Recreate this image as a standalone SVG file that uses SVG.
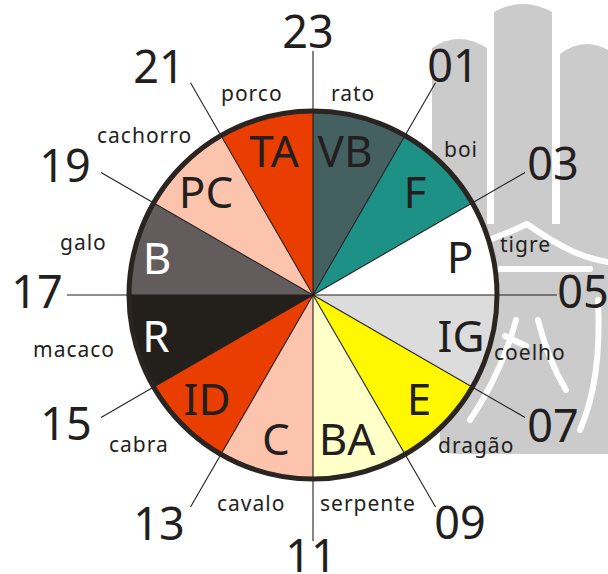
<svg xmlns="http://www.w3.org/2000/svg" width="608" height="574" viewBox="0 0 608 574">
<style>
.num{font-family:"Noto Sans","Open Sans",sans-serif;font-size:45px;fill:#231f20}
.let{font-family:"Noto Sans","Open Sans",sans-serif;font-size:44px;fill:#231f20}
.wht{fill:#ffffff}
.ani{font-family:"Noto Sans","Open Sans",sans-serif;font-size:21px;fill:#231f20;letter-spacing:1px}
.sep{stroke:#231f20;stroke-width:1.1;fill:none}
.wm{fill:#cbcbcb}
.wms{stroke:#ffffff;fill:none;stroke-width:6;stroke-linecap:round;stroke-linejoin:round}
</style>
<rect width="608" height="574" fill="#ffffff"/>
<g id="watermark">
<path class="wm" d="M432,230 L432,48 Q458,30 487,48 L487,230 Z"/>
<path class="wm" d="M494,230 L494,12 Q523,-4 552,12 L552,230 Z"/>
<path class="wm" d="M560,230 L560,54 Q584,36 608,50 L608,230 Z"/>
<path class="wm" d="M440,224 L608,224 L608,454 L456,454 Q440,454 440,438 Z"/>
<path class="wms" d="M476,244 Q502,236 527,224 Q552,242 574,252 Q590,259 608,262"/>
<path class="wms" d="M500,269 L590,269"/>
<path class="wms" d="M516,320 Q502,372 470,420"/>
<path class="wms" d="M505,336 L526,346"/>
<path class="wms" d="M538,320 Q548,360 566,390"/>
<path class="wms" d="M598,300 Q602,380 580,430"/>
</g>
<g id="sectors">
<g id="s-vb"><path d="M313,295 L313,111 A184,184 0 0 1 405,135.65 Z" fill="#456060"/><text class="let" x="345" y="167" text-anchor="middle">VB</text><text class="ani" x="331" y="101">rato</text></g>
<g id="s-f"><path d="M313,295 L405,135.65 A184,184 0 0 1 472.35,203 Z" fill="#1e9186"/><text class="let" x="415" y="208" text-anchor="middle">F</text><text class="ani" x="444" y="157">boi</text></g>
<g id="s-p"><path d="M313,295 L472.35,203 A184,184 0 0 1 497,295 Z" fill="#ffffff"/><text class="let" x="460" y="273" text-anchor="middle">P</text><text class="ani" x="500" y="252">tigre</text></g>
<g id="s-ig"><path d="M313,295 L497,295 A184,184 0 0 1 472.35,387 Z" fill="#dcdcdc"/><text class="let" x="461" y="352" text-anchor="middle">IG</text><text class="ani" x="494" y="360">coelho</text></g>
<g id="s-e"><path d="M313,295 L472.35,387 A184,184 0 0 1 405,454.35 Z" fill="#fff800"/><text class="let" x="419" y="415" text-anchor="middle">E</text><text class="ani" x="438" y="453">dragão</text></g>
<g id="s-ba"><path d="M313,295 L405,454.35 A184,184 0 0 1 313,479 Z" fill="#ffffc8"/><text class="let" x="347" y="455" text-anchor="middle">BA</text><text class="ani" x="320" y="511">serpente</text></g>
<g id="s-c"><path d="M313,295 L313,479 A184,184 0 0 1 221,454.35 Z" fill="#fdc4ad"/><text class="let" x="276" y="455" text-anchor="middle">C</text><text class="ani" x="217" y="511">cavalo</text></g>
<g id="s-id"><path d="M313,295 L221,454.35 A184,184 0 0 1 153.65,387 Z" fill="#ea3d00"/><text class="let" x="207" y="415" text-anchor="middle">ID</text><text class="ani" x="109" y="452">cabra</text></g>
<g id="s-r"><path d="M313,295 L153.65,387 A184,184 0 0 1 129,295 Z" fill="#231f1b"/><text class="let wht" x="156" y="352" text-anchor="middle">R</text><text class="ani" x="33" y="357">macaco</text></g>
<g id="s-b"><path d="M313,295 L129,295 A184,184 0 0 1 153.65,203 Z" fill="#625c5c"/><text class="let wht" x="157" y="274" text-anchor="middle">B</text><text class="ani" x="60" y="250">galo</text></g>
<g id="s-pc"><path d="M313,295 L153.65,203 A184,184 0 0 1 221,135.65 Z" fill="#fdc4ad"/><text class="let" x="206" y="208" text-anchor="middle">PC</text><text class="ani" x="97" y="143">cachorro</text></g>
<g id="s-ta"><path d="M313,295 L221,135.65 A184,184 0 0 1 313,111 Z" fill="#ea3d00"/><text class="let" x="274" y="167" text-anchor="middle">TA</text><text class="ani" x="221" y="101">porco</text></g>
</g>
<g id="connectors">
<line class="sep" x1="313" y1="295" x2="313" y2="51"/>
<line class="sep" x1="313" y1="295" x2="435.5" y2="82.8"/>
<line class="sep" x1="313" y1="295" x2="525" y2="172.5"/>
<line class="sep" x1="313" y1="295" x2="557" y2="295"/>
<line class="sep" x1="313" y1="295" x2="525" y2="417.5"/>
<line class="sep" x1="313" y1="295" x2="435.5" y2="507"/>
<line class="sep" x1="313" y1="295" x2="313" y2="541"/>
<line class="sep" x1="313" y1="295" x2="190.5" y2="507"/>
<line class="sep" x1="313" y1="295" x2="101" y2="417.5"/>
<line class="sep" x1="313" y1="295" x2="67" y2="295"/>
<line class="sep" x1="313" y1="295" x2="101" y2="172.5"/>
<line class="sep" x1="313" y1="295" x2="190.5" y2="82.8"/>
</g>
<circle id="rim" cx="313" cy="295" r="184" fill="none" stroke="#2a2520" stroke-width="5"/>
<g id="hours">
<text class="num" x="308" y="48" text-anchor="middle">23</text>
<text class="num" x="453" y="82" text-anchor="middle">01</text>
<text class="num" x="553" y="180" text-anchor="middle">03</text>
<text class="num" x="583" y="308" text-anchor="middle">05</text>
<text class="num" x="553" y="442" text-anchor="middle">07</text>
<text class="num" x="460" y="539" text-anchor="middle">09</text>
<text class="num" x="311" y="572" text-anchor="middle">11</text>
<text class="num" x="159" y="540" text-anchor="middle">13</text>
<text class="num" x="66" y="440" text-anchor="middle">15</text>
<text class="num" x="37" y="308" text-anchor="middle">17</text>
<text class="num" x="65" y="182" text-anchor="middle">19</text>
<text class="num" x="159" y="83" text-anchor="middle">21</text>
</g>
</svg>
